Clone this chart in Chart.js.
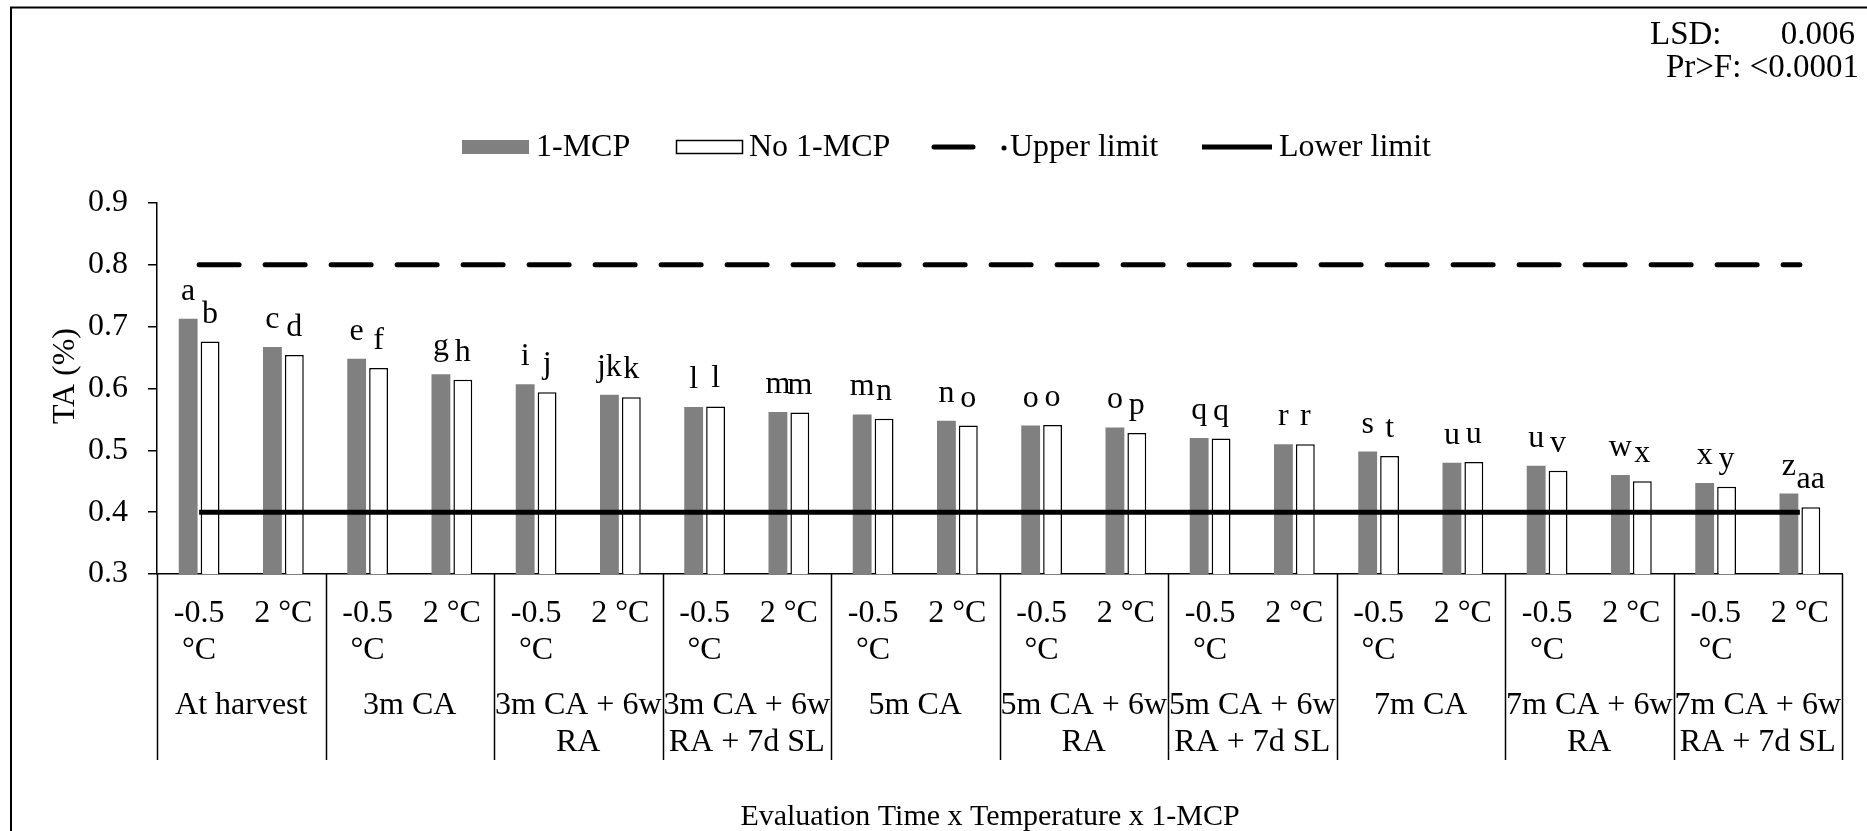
<!DOCTYPE html>
<html>
<head>
<meta charset="utf-8">
<script src="https://cdn.jsdelivr.net/npm/chart.js@4/dist/chart.umd.min.js"></script>
<style>
  html, body { margin: 0; padding: 0; background: #fff; }
  #wrap { width: 1867px; height: 831px; }
</style>
</head>
<body>
<div id="wrap"><canvas id="chart" width="1867" height="831"></canvas></div>
<script>
// --- Data ---
const tempLabels = [["-0.5", "°C"], ["2 °C"]];
const timeLabels = [
  ["At harvest"],
  ["3m CA"],
  ["3m CA + 6w", "RA"],
  ["3m CA + 6w", "RA + 7d SL"],
  ["5m CA"],
  ["5m CA + 6w", "RA"],
  ["5m CA + 6w", "RA + 7d SL"],
  ["7m CA"],
  ["7m CA + 6w", "RA"],
  ["7m CA + 6w", "RA + 7d SL"],
];
const categories = timeLabels.flatMap((t) => tempLabels.map((c) => t.join(" ") + " / " + c.join(" ")));

const mcpValues = [0.713, 0.667, 0.648, 0.623, 0.607, 0.590, 0.570, 0.562, 0.558, 0.548,
                   0.540, 0.537, 0.520, 0.510, 0.498, 0.480, 0.475, 0.460, 0.447, 0.430];
const noMcpValues = [0.676, 0.654, 0.633, 0.614, 0.594, 0.586, 0.571, 0.561, 0.551, 0.540,
                     0.541, 0.528, 0.519, 0.510, 0.491, 0.481, 0.467, 0.450, 0.441, 0.408];
const mcpLetters = ["a", "c", "e", "g", "i", "jk", "l", "m", "m", "n",
                    "o", "o", "q", "r", "s", "u", "u", "w", "x", "z"];
const noMcpLetters = ["b", "d", "f", "h", "j", "k", "l", "m", "n", "o",
                      "o", "p", "q", "r", "t", "u", "v", "x", "y", "aa"];
const upperLimit = categories.map(() => 0.8);
const lowerLimit = categories.map(() => 0.4);

const FONT = "'Liberation Serif', 'Times New Roman', serif";
const FS = 32;

// Everything that isn't a Chart.js scale/dataset: frame, stats note, legend, grouped axis labels.
const decor = {
  id: "decor",
  afterDraw(chart) {
    const ctx = chart.ctx;
    const area = chart.chartArea;
    const xs = chart.scales.x;
    ctx.save();
    ctx.fillStyle = "#000";
    ctx.strokeStyle = "#000";

    // outer frame (only top and left edges fall inside the picture)
    ctx.lineWidth = 2;
    ctx.beginPath();
    ctx.moveTo(11, 840);
    ctx.lineTo(11, 7.5);
    ctx.lineTo(1880, 7.5);
    ctx.stroke();

    // LSD / Pr>F note
    ctx.font = `33px ${FONT}`;
    ctx.textAlign = "left";
    ctx.fillText("LSD:", 1650, 44);
    ctx.textAlign = "right";
    ctx.fillText("0.006", 1855, 44);
    ctx.fillText("Pr>F: <0.0001", 1859, 77);

    ctx.font = `${FS}px ${FONT}`;
    // legend
    ctx.textAlign = "left";
    ctx.textBaseline = "middle";
    const ly = 147;
    ctx.fillStyle = "#808080";
    ctx.fillRect(462, 140, 67, 14);
    ctx.fillStyle = "#000";
    ctx.fillText("1-MCP", 536, ly + 1);
    ctx.lineWidth = 1.5;
    ctx.strokeRect(676.5, 140.5, 66, 13);
    ctx.fillText("No 1-MCP", 749, ly + 1);
    ctx.lineCap = "round";
    ctx.lineWidth = 5;
    ctx.beginPath();
    ctx.moveTo(934, ly);
    ctx.lineTo(973, ly);
    ctx.stroke();
    ctx.beginPath();
    ctx.arc(1004, ly + 1, 2.5, 0, Math.PI * 2);
    ctx.fill();
    ctx.fillText("Upper limit", 1010, ly + 1);
    ctx.lineCap = "butt";
    ctx.beginPath();
    ctx.moveTo(1202, ly);
    ctx.lineTo(1272, ly);
    ctx.stroke();
    ctx.fillText("Lower limit", 1279, ly + 1);

    // y title
    ctx.save();
    ctx.translate(66, 376);
    ctx.rotate(-Math.PI / 2);
    ctx.textAlign = "center";
    ctx.fillText("TA (%)", 0, 0);
    ctx.restore();

    // letters above bars
    ctx.textAlign = "center";
    ctx.textBaseline = "alphabetic";
    [mcpLetters, noMcpLetters].forEach((letters, di) => {
      chart.getDatasetMeta(di).data.forEach((bar, i) => {
        ctx.fillText(letters[i], bar.x, bar.y - 19);
      });
    });

    // group separators below the x axis
    const n = categories.length;
    const edges = [area.left];
    for (let i = 2; i < n; i += 2) {
      edges.push((xs.getPixelForValue(i - 1) + xs.getPixelForValue(i)) / 2);
    }
    edges.push(area.right);
    ctx.lineWidth = 1.5;
    edges.forEach((x) => {
      ctx.beginPath();
      ctx.moveTo(Math.round(x) + 0.5, area.bottom);
      ctx.lineTo(Math.round(x) + 0.5, 760);
      ctx.stroke();
    });

    // temperature row
    const lh = 37;
    for (let i = 0; i < n; i++) {
      const lines = tempLabels[i % 2];
      lines.forEach((t, k) => ctx.fillText(t, xs.getPixelForValue(i), 622 + k * lh));
    }
    // evaluation-time row
    timeLabels.forEach((lines, g) => {
      const cx = (edges[g] + edges[g + 1]) / 2;
      lines.forEach((t, k) => ctx.fillText(t, cx, 714 + k * lh));
    });

    // x title
    ctx.font = `30px ${FONT}`;
    ctx.fillText("Evaluation Time x Temperature x 1-MCP", 990, 825);
    ctx.restore();
  },
};

new Chart(document.getElementById("chart"), {
  data: {
    labels: categories,
    datasets: [
      {
        type: "bar",
        label: "1-MCP",
        data: mcpValues,
        backgroundColor: "#808080",
        borderWidth: 0,
        order: 1,
        categoryPercentage: 0.52,
        barPercentage: 0.86,
      },
      {
        type: "bar",
        label: "No 1-MCP",
        data: noMcpValues,
        backgroundColor: "#ffffff",
        borderColor: "#000000",
        borderWidth: 1.5,
        order: 1,
        categoryPercentage: 0.52,
        barPercentage: 0.86,
      },
      {
        type: "line",
        label: "Upper limit",
        data: upperLimit,
        borderColor: "#000",
        borderWidth: 5,
        borderDash: [40, 26],
        borderCapStyle: "round",
        pointRadius: 0,
        fill: false,
        order: 0,
      },
      {
        type: "line",
        label: "Lower limit",
        data: lowerLimit,
        borderColor: "#000",
        borderWidth: 5,
        pointRadius: 0,
        fill: false,
        order: 0,
      },
    ],
  },
  options: {
    responsive: false,
    animation: false,
    devicePixelRatio: 1,
    layout: { padding: { top: 203, right: 25, bottom: 0, left: 0 } },
    font: { family: FONT, size: FS },
    plugins: { legend: { display: false }, tooltip: { enabled: false } },
    scales: {
      x: {
        offset: true,
        ticks: { display: false },
        grid: { display: false, drawTicks: false },
        border: { display: true, color: "#000", width: 1.5 },
        afterFit: (s) => { s.height = 831 - 574; },
      },
      y: {
        min: 0.3,
        max: 0.9,
        ticks: {
          stepSize: 0.1,
          padding: 20,
          color: "#000",
          font: { family: FONT, size: FS },
          callback: (v) => v.toFixed(1),
        },
        grid: { drawOnChartArea: false, drawTicks: true, tickLength: 9, color: "#000", lineWidth: 1.5 },
        border: { display: true, color: "#000", width: 1.5 },
        afterFit: (s) => { s.width = 157; },
      },
    },
  },
  plugins: [decor],
});
</script>
</body>
</html>
